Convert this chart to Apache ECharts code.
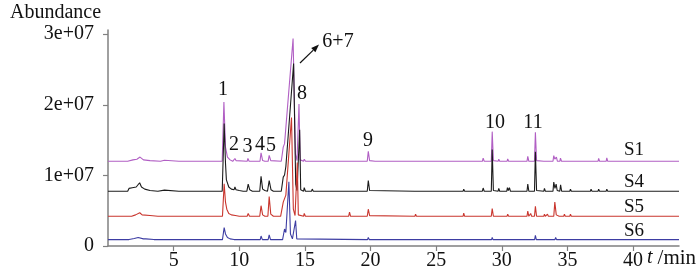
<!DOCTYPE html>
<html>
<head>
<meta charset="utf-8">
<script src="https://cdn.jsdelivr.net/npm/echarts@6/dist/echarts.min.js"></script>
<style>html,body{margin:0;padding:0;background:#fff;}#c{width:700px;height:276px;}</style>
</head>
<body>
<div id="c"></div>
<script>
// Chromatogram traces, values in units of 1e+07 abundance.
// Each trace: [retention time (min), signal above its own baseline]
const seriesNames = ['S1', 'S4', 'S5', 'S6'];
const baselineOffsets = [1.20, 0.776, 0.421, 0.091];   // vertical stacking offset of each trace
const xTickLabels = [5, 10, 15, 20, 25, 30, 35, 40];
const yTickLabels = [0, 1, 2, 3];
const peakLabels = ['1', '2', '3', '4', '5', '6+7', '8', '9', '10', '11'];

const traceS1 = [
  [0,0],[1.5,0],[1.9,0.02],[2.2,0.03],[2.44,0.06],[2.7,0.02],[3.2,0.01],[4.0,0],[4.3,0.015],[4.4,0],[5.4,0],[5.46,0.015],[5.55,0],
  [8.7,0],[8.83,0.84],[8.95,0.2],[9.1,0.06],[9.3,0.02],[9.5,0],
  [9.6,0],[9.67,0.04],[9.75,0.01],[9.9,0],
  [10.6,0],[10.66,0.04],[10.75,0],
  [11.58,0],[11.66,0.12],[11.78,0.01],[11.95,0],
  [12.2,0],[12.28,0.085],[12.4,0.01],[12.55,0],
  [13.2,0],[13.35,0.2],[13.45,0.25],[14.1,1.74],[14.28,0.1],[14.4,0.01],
  [14.48,0],[14.55,0.81],[14.64,0.02],[14.75,0],
  [14.9,0],[14.95,0.03],[15.05,0],
  [15.5,0],[15.56,0.025],[15.65,0],
  [16.45,0],[16.5,0.02],[16.58,0],
  [17.3,0],[17.35,0.015],[17.42,0],
  [18.45,0],[18.5,0.015],[18.56,0],
  [19.45,0],[19.5,0.025],[19.58,0],
  [19.75,0],[19.83,0.14],[19.93,0.01],[20.05,0],
  [20.35,0],[20.4,0.015],[20.47,0],
  [22.25,0],[22.3,0.01],[22.36,0],
  [23.4,0],[23.45,0.012],[23.5,0],
  [24.25,0],[24.3,0.02],[24.37,0],
  [24.95,0],[25.0,0.025],[25.07,0],
  [25.25,0],[25.3,0.025],[25.37,0],
  [27.05,0],[27.1,0.015],[27.17,0],
  [28.52,0],[28.58,0.045],[28.66,0],
  [29.2,0],[29.27,0.42],[29.36,0.01],[29.45,0],
  [29.72,0],[29.77,0.03],[29.84,0],
  [30.4,0],[30.45,0.035],[30.52,0],
  [30.6,0],[30.65,0.015],[30.7,0],
  [31.92,0],[31.98,0.07],[32.06,0],
  [32.49,0],[32.56,0.41],[32.65,0.01],[32.75,0],
  [33.2,0],[33.25,0.02],[33.32,0],
  [33.9,0],[33.96,0.08],[34.04,0.03],[34.16,0.06],[34.24,0],
  [34.42,0],[34.47,0.045],[34.55,0],
  [35.18,0],[35.23,0.02],[35.3,0],
  [36.75,0],[36.8,0.02],[36.87,0],
  [37.33,0],[37.38,0.04],[37.45,0],
  [37.95,0],[38.0,0.05],[38.07,0],
  [42.25,0],[42.3,0.02],[42.37,0],
  [43.5,0]
];
const traceS4 = [
  [0,0],[1.5,0],[1.6,0.04],[1.7,0.03],[1.85,0.05],[2.0,0.04],[2.15,0.06],[2.41,0.12],[2.55,0.06],[2.8,0.03],[3.2,0.01],[3.8,0],[4.3,0.015],[4.4,0],[5.4,0],[5.46,0.02],[5.55,0],
  [8.7,0],[8.85,0.96],[8.95,0.4],[9.02,0.16],[9.2,0.06],[9.4,0.03],[9.6,0.02],[9.67,0.06],[9.75,0.02],[10.0,0.01],[10.3,0],
  [10.58,0],[10.68,0.1],[10.8,0.02],[11.0,0],
  [11.56,0],[11.66,0.21],[11.78,0.03],[11.95,0.01],[12.15,0],
  [12.28,0.15],[12.42,0.02],[12.6,0],
  [13.2,0],[13.35,0.2],[13.45,0.23],[13.55,0.35],[14.14,1.81],[14.3,0.1],[14.4,0.01],
  [14.52,0],[14.6,0.87],[14.68,0.02],[14.8,0],
  [14.9,0],[14.95,0.05],[15.04,0],
  [15.5,0],[15.56,0.03],[15.64,0],
  [16.45,0],[16.5,0.02],[16.58,0],
  [17.3,0],[17.35,0.02],[17.42,0],
  [18.45,0],[18.5,0.015],[18.56,0],
  [19.2,0],[19.25,0.02],[19.32,0],
  [19.75,0],[19.83,0.15],[19.93,0.01],[20.05,0],
  [23.35,0],[23.4,0.012],[23.46,0],
  [24.25,0],[24.3,0.015],[24.37,0],
  [24.95,0],[25.0,0.02],[25.07,0],
  [25.25,0],[25.3,0.02],[25.37,0],
  [27.05,0],[27.1,0.03],[27.17,0],
  [28.52,0],[28.58,0.045],[28.66,0],
  [29.2,0],[29.27,0.59],[29.36,0.01],[29.45,0],
  [29.72,0],[29.77,0.04],[29.84,0],
  [30.38,0],[30.43,0.05],[30.5,0.01],[30.58,0.05],[30.66,0],
  [31.92,0],[31.98,0.1],[32.06,0],
  [32.49,0],[32.56,0.56],[32.65,0.01],[32.75,0],
  [33.2,0],[33.25,0.04],[33.32,0],
  [33.9,0],[33.96,0.13],[34.05,0.04],[34.14,0.1],[34.22,0.01],
  [34.42,0],[34.48,0.09],[34.56,0],
  [35.18,0],[35.23,0.03],[35.3,0],
  [36.75,0],[36.8,0.03],[36.87,0],
  [37.33,0],[37.38,0.03],[37.45,0],
  [37.95,0],[38.0,0.03],[38.07,0],
  [42.25,0],[42.3,0.02],[42.37,0],
  [43.5,0]
];
const traceS5 = [
  [0,0],[1.8,0],[2.1,0.02],[2.42,0.05],[2.6,0.02],[3.2,0.01],[3.8,0],
  [8.72,0],[8.85,0.46],[8.95,0.2],[9.05,0.1],[9.2,0.04],[9.4,0.02],[9.7,0.01],[10.0,0],
  [10.6,0],[10.68,0.04],[10.78,0],
  [11.56,0],[11.66,0.15],[11.78,0.02],[11.95,0],
  [12.18,0],[12.28,0.28],[12.4,0.03],[12.6,0],
  [13.15,0],[13.35,0.2],[13.45,0.22],[13.55,0.3],[13.98,1.4],[14.12,0.1],[14.25,0.01],
  [14.35,0],[14.42,0.76],[14.5,0.02],[14.6,0],
  [14.9,0],[14.95,0.04],[15.04,0],
  [15.5,0],[15.56,0.02],[15.64,0],
  [17.3,0],[17.35,0.02],[17.42,0],
  [18.33,0],[18.4,0.06],[18.48,0],
  [19.75,0],[19.83,0.1],[19.93,0.01],[20.05,0],
  [23.38,0],[23.43,0.03],[23.5,0],
  [24.95,0],[25.0,0.01],[25.07,0],
  [27.05,0],[27.1,0.045],[27.17,0],
  [29.2,0],[29.27,0.11],[29.36,0],
  [30.4,0],[30.45,0.03],[30.52,0],
  [31.0,0],[31.04,0.02],[31.1,0],
  [31.92,0],[31.98,0.075],[32.06,0],
  [32.15,0],[32.2,0.04],[32.27,0],
  [32.49,0],[32.56,0.14],[32.65,0],
  [33.2,0],[33.25,0.03],[33.32,0],
  [33.43,0],[33.48,0.03],[33.55,0],
  [33.96,0],[34.04,0.2],[34.15,0.02],[34.25,0],[34.3,0.03],[34.37,0],
  [34.72,0],[34.77,0.03],[34.84,0],
  [35.18,0],[35.23,0.03],[35.3,0],
  [36.75,0],[36.8,0.015],[36.87,0],
  [37.33,0],[37.38,0.02],[37.45,0],
  [37.95,0],[38.0,0.02],[38.07,0],
  [43.5,0]
];
const traceS6 = [
  [0,0],[1.6,0],[2.0,0.015],[2.3,0.03],[2.45,0.02],[2.7,0.01],[2.88,0.01],[2.92,0.035],[2.98,0.005],[3.5,0],
  [8.72,0],[8.85,0.17],[8.95,0.08],[9.1,0.03],[9.3,0.01],[9.6,0],
  [11.6,0],[11.66,0.05],[11.76,0],
  [12.2,0],[12.28,0.065],[12.38,0],
  [13.3,0],[13.45,0.15],[13.55,0.1],[13.78,0.82],[13.9,0.08],[14.05,0.01],[14.2,0],
  [14.29,0.27],[14.38,0.01],[14.5,0],
  [19.77,0],[19.83,0.03],[19.9,0],
  [29.22,0],[29.27,0.03],[29.33,0],
  [31.93,0],[31.98,0.015],[32.04,0],
  [32.5,0],[32.56,0.06],[32.63,0],
  [34.05,0],[34.1,0.03],[34.17,0],
  [43.5,0]
];
const traces = [traceS1, traceS4, traceS5, traceS6];

// ---- styling / layout (not data) ----
const colors = ['#b15fc4', '#1c1c1c', '#c9362e', '#3d3da3'];
const FONT = '"Liberation Serif", "DejaVu Serif", serif';
const peakLabelPos = [[223,90],[234,145],[247.5,146.5],[260,144.5],[271,146],[338,42],[302,94],[368,141],[495,122.5],[533,122.5]];
const seriesLabelPos = [[634,150.5],[634,182.5],[634,207.5],[634,231]];

const chart = echarts.init(document.getElementById('c'), null, {renderer: 'canvas'});

const series = traces.map((tr, i) => ({
  name: seriesNames[i],
  type: 'line',
  data: tr.map(p => [p[0], p[1] + baselineOffsets[i]]),
  showSymbol: false,
  symbol: 'none',
  lineStyle: {color: colors[i], width: 1.1},
  itemStyle: {color: colors[i]},
  animation: false,
  silent: true
}));

const graphics = [];
peakLabels.forEach((t, i) => {
  graphics.push({type: 'text', x: peakLabelPos[i][0], y: peakLabelPos[i][1],
    style: {text: t, font: '20px ' + FONT, fill: '#111', align: 'center', verticalAlign: 'middle'}});
});
seriesNames.forEach((t, i) => {
  graphics.push({type: 'text', x: seriesLabelPos[i][0], y: seriesLabelPos[i][1],
    style: {text: t, font: '19px ' + FONT, fill: '#111', align: 'center', verticalAlign: 'middle'}});
});
graphics.push({type: 'text', x: 10, y: 13,
  style: {text: 'Abundance', font: '20px ' + FONT, fill: '#111', align: 'left', verticalAlign: 'middle'}});
graphics.push({type: 'text', x: 647, y: 258,
  style: {text: '{i|t}{n|/min}', align: 'left', verticalAlign: 'middle',
    rich: {i: {font: 'italic 20px ' + FONT, fill: '#111', padding: [0, 5, 0, 0]}, n: {font: '21px ' + FONT, fill: '#111'}}}});
// arrow pointing to 6+7
graphics.push({type: 'line', shape: {x1: 300, y1: 63, x2: 313.3, y2: 50.1}, style: {stroke: '#111', lineWidth: 1.2}});
graphics.push({type: 'polygon', shape: {points: [[319, 44.5], [315.4, 52.2], [311.2, 48.0]]}, style: {fill: '#111'}});

chart.setOption({
  animation: false,
  backgroundColor: '#fff',
  grid: {left: 108, right: 21, top: 30, bottom: 30},
  xAxis: {
    type: 'value', min: 0, max: 43.5, interval: 5,
    axisLine: {show: true, onZero: false, lineStyle: {color: '#808080', width: 1.5}},
    axisTick: {show: true, length: 5, lineStyle: {color: '#808080', width: 1.2}, customValues: xTickLabels},
    axisLabel: {show: true, margin: 5, color: '#111', fontFamily: FONT, fontSize: 20, customValues: xTickLabels,
      formatter: v => (v === 0 ? '' : String(v))},
    splitLine: {show: false}
  },
  yAxis: {
    type: 'value', min: 0, max: 3.06, interval: 1,
    axisLine: {show: true, lineStyle: {color: '#808080', width: 1.5}},
    axisTick: {show: true, length: 5, lineStyle: {color: '#808080', width: 1.2}, customValues: yTickLabels},
    axisLabel: {show: true, margin: 14, color: '#111', fontFamily: FONT, fontSize: 20, customValues: yTickLabels,
      formatter: v => (v === 0 ? '0' : v + 'e+07')},
    splitLine: {show: false}
  },
  series: series,
  graphic: graphics
});
</script>
</body>
</html>
